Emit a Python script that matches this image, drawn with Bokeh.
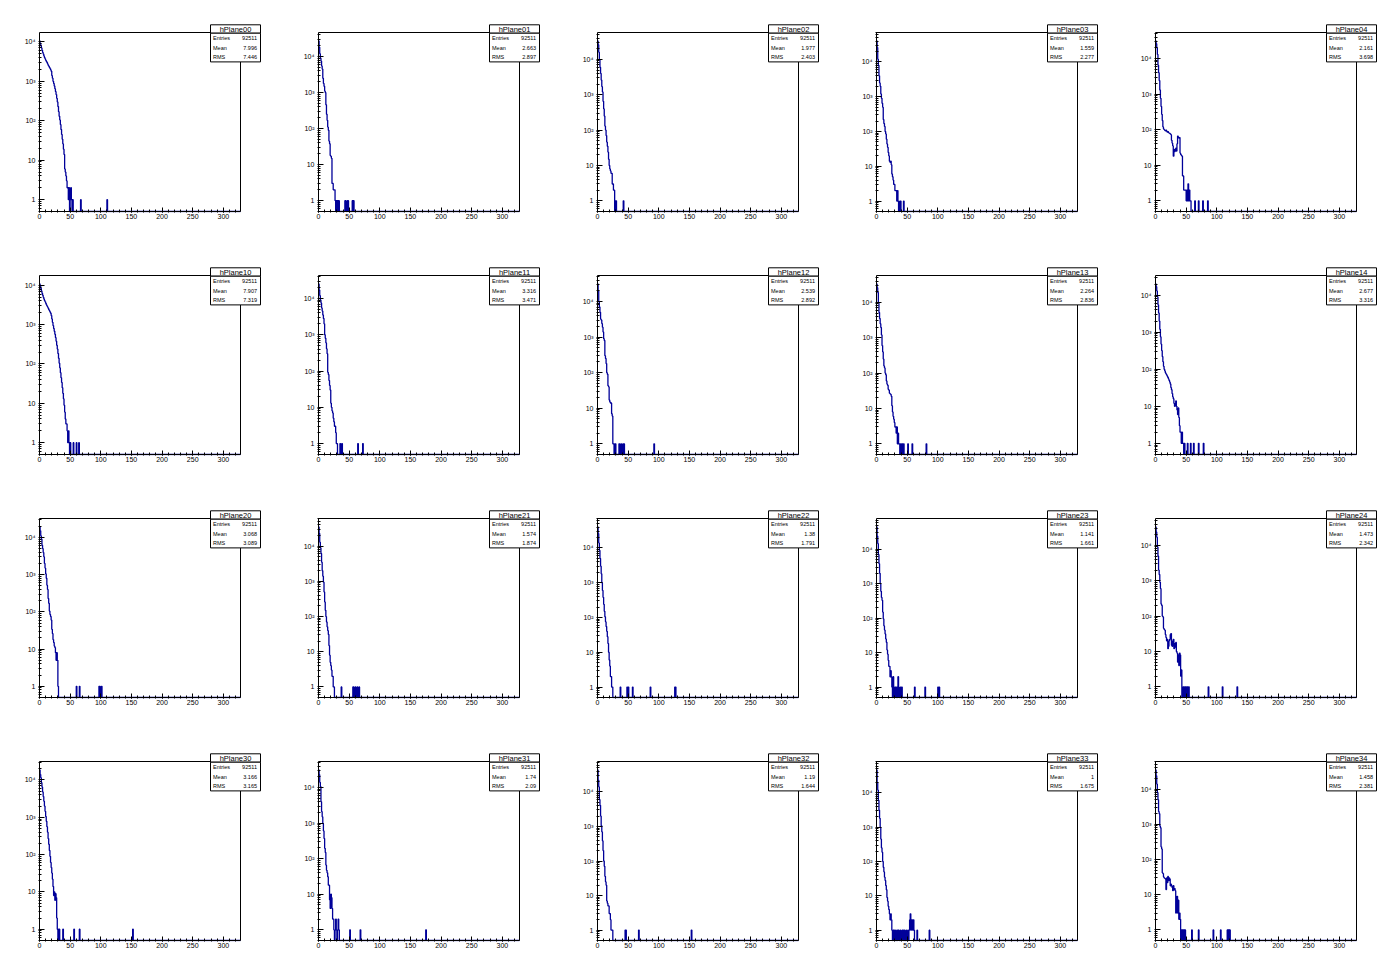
import numpy as np
from bokeh.plotting import figure
from bokeh.layouts import gridplot
from bokeh.models import (Range1d, FixedTicker, CustomJSTickFormatter,
                          BoxAnnotation, Label)
from bokeh.embed import file_html
from bokeh.resources import INLINE

# ---------------- data ----------------
XMAX = 328  # histogram range 0..328, unit bins

names = ["hPlane00", "hPlane01", "hPlane02", "hPlane03", "hPlane04",
         "hPlane10", "hPlane11", "hPlane12", "hPlane13", "hPlane14",
         "hPlane20", "hPlane21", "hPlane22", "hPlane23", "hPlane24",
         "hPlane30", "hPlane31", "hPlane32", "hPlane33", "hPlane34"]
entries = ["92511", "92511", "92511", "92511", "92511",
           "92511", "92511", "92511", "92511", "92511",
           "92511", "92511", "92511", "92511", "92511",
           "92511", "92511", "92511", "92511", "92511"]
means = ["7.996", "2.663", "1.977", "1.559", "2.161",
         "7.907", "3.316", "2.539", "2.264", "2.677",
         "3.068", "1.574", "1.38", "1.141", "1.473",
         "3.166", "1.74", "1.19", "1", "1.458"]
rmss = ["7.446", "2.897", "2.403", "2.277", "3.698",
        "7.319", "3.471", "2.892", "2.836", "3.316",
        "3.089", "1.874", "1.791", "1.661", "2.342",
        "3.165", "2.09", "1.644", "1.675", "2.381"]

# bin contents from bin 0 upward, then isolated single-count bins
h00 = [10500, 9200, 8000, 7000, 6100, 5400, 4900, 4400, 4000, 3700, 3400, 3200, 3000, 2750,
       2550, 2400, 2250, 2100, 1950, 1800, 1400, 1200, 1000, 880, 760, 650, 550, 460, 370, 300,
       230, 170, 130, 105, 80, 60, 45, 34, 26, 19, 14, 6, 5, 4, 3, 2, 2, 1, 2, 0, 1, 2, 1, 0, 1]
t00 = [67, 110]
h01 = [27000, 18000, 12000, 9000, 7500, 5500, 4500, 2500, 1800, 1500, 1100, 1000, 460, 250, 170,
       110, 90, 45, 38, 18, 17, 15, 3, 3, 2, 2, 2, 1, 0, 1, 1, 0, 1, 1]
t01 = [43, 44, 47, 48, 55, 57]
h02 = [33000, 26000, 16000, 10000, 6000, 4000, 2600, 1700, 1200, 650, 400, 250, 130, 100, 70, 46,
       35, 24, 15, 10, 8, 7, 6, 6, 3, 3, 2, 2, 0, 1, 1]
t02 = [42]
h03 = [40000, 26000, 12000, 8000, 4000, 2500, 2000, 1200, 900, 650, 500, 220, 170, 140, 100, 85,
       60, 44, 35, 25, 20, 14, 13, 14, 11, 6, 5, 4, 3, 3, 2, 2, 2, 1, 2, 1]
t03 = [38, 39, 44]
h04 = [31000, 26000, 20000, 13000, 6500, 4000, 2400, 1300, 760, 450, 270, 180, 120, 105, 100, 95,
       92, 97, 90, 85, 88, 82, 80, 78, 76, 72, 50, 42, 35, 18, 28, 24, 26, 30, 25, 40, 66, 62, 58,
       60, 22, 20, 19, 18, 5, 5, 2, 2, 2, 2, 1, 2, 1, 3, 1, 2, 1, 1]
t04 = [64, 70, 77, 85]

h10 = [10800, 9500, 8300, 7200, 6300, 5600, 5000, 4500, 4100, 3800, 3500, 3200, 3000, 2800, 2600,
       2400, 2250, 2100, 1950, 1700, 1400, 1150, 950, 800, 680, 570, 470, 380, 300, 240, 185, 140,
       105, 80, 60, 45, 34, 25, 18, 13, 9, 6, 4, 3, 3, 2, 1, 2, 1, 0, 1]
t10 = [55, 60, 64]
h11 = [25000, 17000, 12000, 9000, 7500, 5500, 4500, 3500, 2800, 2000, 1000, 800, 600, 410, 300,
       92, 80, 55, 40, 30, 13, 10, 8, 7, 5, 4, 3, 3, 2, 1, 1]
t11 = [35, 38, 64, 72]
h12 = [31000, 20000, 10000, 7000, 5000, 3200, 3000, 2400, 1900, 1400, 900, 800, 300, 250, 180,
       100, 90, 43, 40, 17, 15, 14, 14, 7, 6, 1, 1, 0, 1, 1]
t12 = [35, 36, 39, 42, 43, 92]
h13 = [33000, 26000, 19000, 10000, 5200, 3500, 2500, 1950, 1200, 600, 400, 250, 160, 140, 100, 90,
       60, 49, 45, 35, 33, 27, 26, 25, 22, 12, 8, 6, 5, 4, 3, 3, 2, 3, 1, 2, 1, 1, 0, 1, 0, 1, 1,
       0, 1]
t13 = [51, 58, 81]
h14 = [20000, 17000, 13000, 9000, 5500, 3300, 2000, 1200, 750, 480, 320, 220, 160, 120, 100, 90,
       80, 75, 70, 65, 60, 55, 50, 45, 40, 32, 28, 22, 18, 16, 12, 10, 12, 14, 10, 8, 6, 9, 5, 3,
       2, 2, 1, 2, 1, 1, 0, 1]
t14 = [52, 57, 62, 70, 78]

h20 = [19000, 15000, 11000, 9000, 6200, 5000, 3900, 3000, 2000, 1500, 1050, 800, 520, 400, 230,
       170, 105, 85, 75, 60, 34, 26, 18, 15, 12, 11, 8, 5, 8, 5, 1]
t20 = [60, 65, 97, 98, 101]
h21 = [35000, 23000, 13000, 9000, 6200, 3500, 2000, 1400, 950, 500, 260, 150, 100, 70, 51, 40, 31,
       15, 8, 5, 4, 3, 2, 2, 1, 1]
t21 = [37, 56, 57, 60, 63, 66]
h22 = [40000, 26000, 14000, 8500, 5000, 3000, 1800, 1000, 600, 380, 240, 150, 105, 75, 55, 40, 28,
       18, 10, 6, 4, 2, 2, 1, 1]
t22 = [37, 48, 50, 57, 86, 126, 127]
h23 = [44000, 24000, 14600, 7000, 3800, 2000, 1000, 600, 400, 330, 150, 95, 60, 45, 35, 25, 20, 12,
       9, 6, 4, 4, 2, 3, 2, 1, 0, 2, 1, 0, 1, 1, 0, 1, 0, 2, 1, 0, 0, 1, 0, 1]
t23 = [62, 79, 100, 102]
h24 = [33000, 24000, 17000, 9000, 5000, 2000, 1500, 900, 600, 220, 200, 100, 95, 45, 42, 40, 30,
       25, 20, 22, 12, 14, 20, 22, 30, 32, 15, 14, 20, 22, 12, 13, 17, 18, 10, 9, 5, 8, 4, 9, 8,
       2, 3, 0, 0, 1, 1, 0, 1, 1, 0, 1, 1, 0, 1]
t24 = [86, 109, 133]

h30 = [18500, 14000, 11500, 8500, 6500, 4800, 3600, 2700, 2000, 1450, 1050, 780, 560, 400, 270,
       190, 130, 90, 62, 45, 32, 22, 14, 8, 10, 6, 9, 7, 2, 1]
t30 = [31, 32, 38, 56, 65, 152]
h31 = [31000, 23000, 14000, 10600, 4000, 2100, 1500, 980, 600, 370, 195, 150, 66, 47, 40, 31, 18,
       18, 7, 4, 10, 8, 4, 2, 2, 1, 0, 1, 2, 1, 0, 1, 2, 1]
t31 = [51, 68, 175]
h32 = [43000, 22000, 14000, 6000, 4100, 2000, 1050, 700, 385, 200, 100, 70, 36, 25, 20, 7, 6, 5,
       5, 3, 3, 2, 1, 1, 1]
t32 = [45, 46, 67, 153]
h33 = [46000, 20000, 12000, 6000, 3100, 1800, 1000, 450, 250, 186, 100, 68, 50, 35, 28, 20, 15, 9,
       7, 5, 4, 3, 2, 3, 2, 1, 0, 1, 1, 0, 1, 0, 0, 1, 0, 1, 1, 0, 0, 1, 0, 0, 1, 1, 0, 1, 0, 0,
       1, 0, 0, 1, 0, 1, 2, 3, 1, 2, 2, 1, 2, 1]
t33 = [66, 86]
h34 = [35000, 24000, 14000, 8000, 5000, 2300, 2000, 900, 800, 230, 200, 42, 40, 32, 30, 29, 28,
       14, 30, 22, 33, 25, 30, 28, 18, 20, 18, 16, 13, 18, 14, 15, 13, 3, 4, 9, 3, 7, 2, 3, 2, 0,
       1, 1, 0, 1, 1, 0, 1]
t34 = [59, 70, 94, 106, 117, 119, 121]

bodies = [h00, h01, h02, h03, h04, h10, h11, h12, h13, h14,
          h20, h21, h22, h23, h24, h30, h31, h32, h33, h34]
tails = [t00, t01, t02, t03, t04, t10, t11, t12, t13, t14,
         t20, t21, t22, t23, t24, t30, t31, t32, t33, t34]

x_major = [0, 50, 100, 150, 200, 250, 300]
x_minor = list(range(0, 330, 10))
y_major = [1, 10, 100, 1000, 10000, 100000]
y_minor = [k * 10.0 ** d for d in range(-1, 6) for k in range(2, 10)]

# ---------------- style / geometry ----------------
FONT = "Liberation Sans"
LINE = "#000099"
PAD_W = [279, 279, 279, 279, 279]
PAD_H = [243, 243, 243, 242]
RL, RT, RW, RH = 39, 32, 201, 179      # ROOT frame inside each pad
EL, ER, ET, EB = 1, 22, 9, 1           # bokeh frame extension around it

fmt = CustomJSTickFormatter(code="""
    const e = Math.round(Math.log10(tick));
    if (e == 0) return "1";
    if (e == 1) return "10";
    const sup = {2: "\u00b2", 3: "\u00b3", 4: "\u2074", 5: "\u2075"};
    return "10" + sup[e];
""")

rows = []
for r in range(4):
    row = []
    for c in range(5):
        i = r * 5 + c
        counts = np.zeros(XMAX)
        counts[:len(bodies[i])] = bodies[i]
        for t in tails[i]:
            counts[t] += 1
        ymin = 0.5
        lm = np.log10(counts.max())
        l0 = np.log10(ymin)
        l1 = lm + 0.05 * (lm - l0)
        ytop = 10 ** l1

        ppu = RW / XMAX
        dpy = (l1 - l0) / RH
        xr = Range1d(-EL / ppu, XMAX + ER / ppu)
        yr = Range1d(10 ** (l0 - EB * dpy), 10 ** (l1 + ET * dpy))

        w, h = PAD_W[c], PAD_H[r]
        p = figure(width=w, height=h, y_axis_type="log", x_range=xr, y_range=yr,
                   output_backend="svg", toolbar_location=None,
                   min_border_left=RL - EL, min_border_right=w - RL - RW - ER,
                   min_border_top=RT - ET, min_border_bottom=h - RT - RH - EB)
        p.background_fill_color = "white"
        p.border_fill_color = "white"
        p.outline_line_color = None
        p.xgrid.visible = False
        p.ygrid.visible = False

        edges = np.arange(XMAX + 1)
        yplot = np.where(counts > 0, counts, ymin)
        yplot = np.append(yplot, yplot[-1])
        p.step(edges, yplot, mode="after", line_color=LINE, line_width=1.3)
        # ROOT frame box
        p.quad(left=[0], right=[XMAX], bottom=[ymin], top=[ytop],
               fill_color=None, line_color="black", line_width=1)

        ax = p.xaxis[0]
        ax.ticker = FixedTicker(ticks=x_major, minor_ticks=x_minor)
        ax.major_tick_in, ax.major_tick_out = 5, 0
        ax.minor_tick_in, ax.minor_tick_out = 3, 0
        ax.major_tick_line_color = "black"
        ax.minor_tick_line_color = "black"
        ax.axis_line_color = None
        ax.major_label_text_font = FONT
        ax.major_label_text_font_size = "7px"
        ax.major_label_text_color = "black"
        ax.major_label_standoff = 1

        ay = p.yaxis[0]
        ay.ticker = FixedTicker(ticks=[t for t in y_major if ymin <= t <= ytop],
                                minor_ticks=[t for t in y_minor if ymin <= t <= ytop])
        ay.formatter = fmt
        ay.major_tick_in, ay.major_tick_out = 6, 0
        ay.minor_tick_in, ay.minor_tick_out = 3, 0
        ay.major_tick_line_color = "black"
        ay.minor_tick_line_color = "black"
        ay.axis_line_color = None
        ay.major_label_text_font = FONT
        ay.major_label_text_font_size = "7px"
        ay.major_label_text_color = "black"
        ay.major_label_standoff = 3

        # stats box (canvas coordinates of the figure)
        bl, br = RL + 171, RL + 221
        p.add_layout(BoxAnnotation(left=bl, right=br, top=RT - 7.7, bottom=RT + 0.7,
                                   left_units="canvas", right_units="canvas",
                                   top_units="canvas", bottom_units="canvas",
                                   fill_color="white", fill_alpha=1,
                                   line_color="black", line_width=1, line_alpha=1))
        p.add_layout(BoxAnnotation(left=bl, right=br, top=RT + 0.7, bottom=RT + 29.4,
                                   left_units="canvas", right_units="canvas",
                                   top_units="canvas", bottom_units="canvas",
                                   fill_color="white", fill_alpha=1,
                                   line_color="black", line_width=1, line_alpha=1))
        p.add_layout(Label(x=(bl + br) / 2, y=RT - 3.5, x_units="canvas", y_units="canvas",
                           text=names[i], text_font=FONT, text_font_size="7.5px",
                           text_align="center", text_baseline="middle", text_color="black"))
        for k, (lab, val) in enumerate([("Entries", entries[i]), ("Mean", means[i]),
                                        ("RMS", rmss[i])]):
            yy = RT + 5.8 + k * 9.2
            p.add_layout(Label(x=bl + 2.5, y=yy, x_units="canvas", y_units="canvas",
                               text=lab, text_font=FONT, text_font_size="5.5px",
                               text_align="left", text_baseline="middle", text_color="black"))
            p.add_layout(Label(x=br - 3.5, y=yy, x_units="canvas", y_units="canvas",
                               text=val, text_font=FONT, text_font_size="5.5px",
                               text_align="right", text_baseline="middle", text_color="black"))
        row.append(p)
    rows.append(row)

grid = gridplot(rows, toolbar_location=None)
open("out.html", "w").write(file_html(grid, INLINE))
